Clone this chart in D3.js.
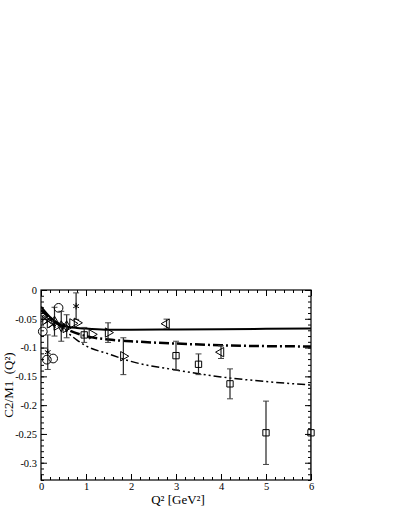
<!DOCTYPE html>
<html>
<head>
<meta charset="utf-8">
<script src="https://cdn.jsdelivr.net/npm/d3@7"></script>
<style>
  body { margin: 0; background: #fff; }
  svg text { font-family: "Liberation Serif", "DejaVu Serif", serif; }
</style>
</head>
<body>
<svg id="chart"></svg>
<script>
// curves: [Q2, C2/M1]
var solidCurve = [[0,-0.029],[0.2,-0.047],[0.5,-0.062],[0.8,-0.066],[1,-0.067],[1.5,-0.069],[2,-0.069],[3,-0.0685],[4,-0.068],[5,-0.0675],[6,-0.067]];
var dashCurve = [[0,-0.035],[0.3,-0.055],[0.6,-0.069],[1,-0.080],[1.5,-0.086],[2,-0.089],[3,-0.093],[4,-0.096],[5,-0.0975],[6,-0.098]];
var dashDotCurve = [[0,-0.035],[0.3,-0.055],[0.5,-0.068],[0.8,-0.087],[1,-0.097],[1.5,-0.111],[2,-0.124],[3,-0.139],[4,-0.151],[5,-0.159],[6,-0.165]];

// data points: [Q2, value, error]
var squares = [[0.96,-0.078,0.013],[3.0,-0.114,0.025],[3.5,-0.129,0.018],[4.2,-0.163,0.026],[5.0,-0.248,0.055],[6.0,-0.248,0.083]];
var triRight = [[0.1,-0.052,0],[0.2,-0.058,0],[0.35,-0.062,0],[0.55,-0.066,0],[0.7,-0.058,0],[0.8,-0.057,0],[1.13,-0.077,0],[1.49,-0.074,0.017],[1.83,-0.115,0.032]];
var triLeft = [[2.79,-0.0586,0.008],[4.0,-0.108,0.011]];
var circles = [[0.04,-0.072,0],[0.13,-0.121,0],[0.27,-0.119,0],[0.39,-0.031,0]];
var stars = [[0.15,-0.108,0.03],[0.78,-0.028,0.023]];
var crosses = [[0.08,-0.05,0],[0.15,-0.053,0],[0.25,-0.06,0]];
var diamonds = [[0.3,-0.055,0.025],[0.45,-0.063,0.026],[0.57,-0.063,0.02]];

var xTicks = [0,1,2,3,4,5,6];
var yTicks = [0,-0.05,-0.1,-0.15,-0.2,-0.25,-0.3];

var margin = { top: 290, right: 93, bottom: 43, left: 41 },
  width = 404, height = 523,
  w = width - margin.left - margin.right,
  h = height - margin.top - margin.bottom;

var svg = d3.select("#chart").attr("width", width).attr("height", height);
var g = svg.append("g").attr("transform", `translate(${margin.left}, ${margin.top})`);

var x = d3.scaleLinear().domain([0, 6]).range([0, w]);
var y = d3.scaleLinear().domain([-0.33, 0]).range([h, 0]);

svg.append("clipPath").attr("id", "clip")
  .append("rect").attr("width", w).attr("height", h);

// axes, ticks pointing inward on all four sides
function styleAxis(sel) {
  sel.select(".domain").remove();
  sel.selectAll("line").attr("stroke", "#000");
  sel.selectAll("text").style("font-size", "10.5px").attr("fill", "#000");
}
var xMinor = d3.range(0, 6.001, 0.2);
var yMinor = d3.range(0, -0.3301, -0.01);

g.append("g").attr("transform", `translate(0, ${h})`)
  .call(d3.axisBottom(x).tickValues(xMinor).tickSize(-3).tickFormat("")).call(styleAxis);
g.append("g").attr("transform", `translate(0, ${h})`)
  .call(d3.axisBottom(x).tickValues(xTicks).tickSize(-6).tickPadding(3).tickFormat(d3.format("d"))).call(styleAxis);
g.append("g")
  .call(d3.axisTop(x).tickValues(xMinor).tickSize(-3).tickFormat("")).call(styleAxis);
g.append("g")
  .call(d3.axisTop(x).tickValues(xTicks).tickSize(-6).tickFormat("")).call(styleAxis);

g.append("g")
  .call(d3.axisLeft(y).tickValues(yMinor).tickSize(-3).tickFormat("")).call(styleAxis);
g.append("g")
  .call(d3.axisLeft(y).tickValues(yTicks).tickSize(-6).tickPadding(4).tickFormat(d => d === 0 ? "0" : String(d))).call(styleAxis);
g.append("g").attr("transform", `translate(${w}, 0)`)
  .call(d3.axisRight(y).tickValues(yMinor).tickSize(-3).tickFormat("")).call(styleAxis);
g.append("g").attr("transform", `translate(${w}, 0)`)
  .call(d3.axisRight(y).tickValues(yTicks).tickSize(-6).tickFormat("")).call(styleAxis);

g.append("rect").attr("width", w).attr("height", h)
  .attr("fill", "none").attr("stroke", "#000").attr("stroke-width", 1.2);

// curves
var plot = g.append("g").attr("clip-path", "url(#clip)");
var line = d3.line().x(d => x(d[0])).y(d => y(d[1])).curve(d3.curveMonotoneX);

plot.append("path").datum(solidCurve).attr("d", line)
  .attr("fill", "none").attr("stroke", "#000").attr("stroke-width", 2);
plot.append("path").datum(dashCurve).attr("d", line)
  .attr("fill", "none").attr("stroke", "#000").attr("stroke-width", 2.5)
  .attr("stroke-dasharray", "10,3,2,3");
plot.append("path").datum(dashDotCurve).attr("d", line)
  .attr("fill", "none").attr("stroke", "#000").attr("stroke-width", 1.5)
  .attr("stroke-dasharray", "8,3,2,3,2,3");

// error bars
var allPts = [].concat(squares, triRight, triLeft, circles, stars, crosses, diamonds).filter(d => d[2] > 0);
var eb = plot.selectAll(".eb").data(allPts).join("g").attr("class", "eb");
eb.append("line")
  .attr("x1", d => x(d[0])).attr("x2", d => x(d[0]))
  .attr("y1", d => y(d[1] + d[2])).attr("y2", d => y(d[1] - d[2]))
  .attr("stroke", "#222").attr("stroke-width", 1.2);
eb.append("line")
  .attr("x1", d => x(d[0]) - 3).attr("x2", d => x(d[0]) + 3)
  .attr("y1", d => y(d[1] + d[2])).attr("y2", d => y(d[1] + d[2]))
  .attr("stroke", "#444").attr("stroke-width", 1);
eb.append("line")
  .attr("x1", d => x(d[0]) - 3).attr("x2", d => x(d[0]) + 3)
  .attr("y1", d => y(d[1] - d[2])).attr("y2", d => y(d[1] - d[2]))
  .attr("stroke", "#444").attr("stroke-width", 1);

// symbols (not clipped, as in the reference)
var marks = g.append("g");
function drawSymbols(data, type, size, rotate) {
  marks.selectAll(null).data(data).join("path")
    .attr("d", d3.symbol().type(type).size(size))
    .attr("transform", d => `translate(${x(d[0])}, ${y(d[1])}) rotate(${rotate})`)
    .attr("fill", "none").attr("stroke", "#000").attr("stroke-width", 1);
}
drawSymbols(squares, d3.symbolSquare, 40, 0);
drawSymbols(triRight, d3.symbolTriangle, 38, 90);
drawSymbols(triLeft, d3.symbolTriangle, 38, -90);
drawSymbols(circles, d3.symbolCircle, 60, 0);
drawSymbols(stars, d3.symbolAsterisk, 30, 0);
drawSymbols(crosses, d3.symbolTimes, 30, 0);
drawSymbols(diamonds, d3.symbolDiamond, 35, 0);

// axis labels
svg.append("text")
  .attr("x", margin.left + w / 2 + 2)
  .attr("y", margin.top + h + 24)
  .style("text-anchor", "middle")
  .style("font-size", "13px")
  .text("Q² [GeV²]");

svg.append("text")
  .attr("transform", `translate(13, ${margin.top + h / 2}) rotate(-90)`)
  .style("text-anchor", "middle")
  .style("font-size", "13px")
  .attr("xml:space", "preserve")
  .text("C2/M1  (Q²)");
</script>
</body>
</html>
